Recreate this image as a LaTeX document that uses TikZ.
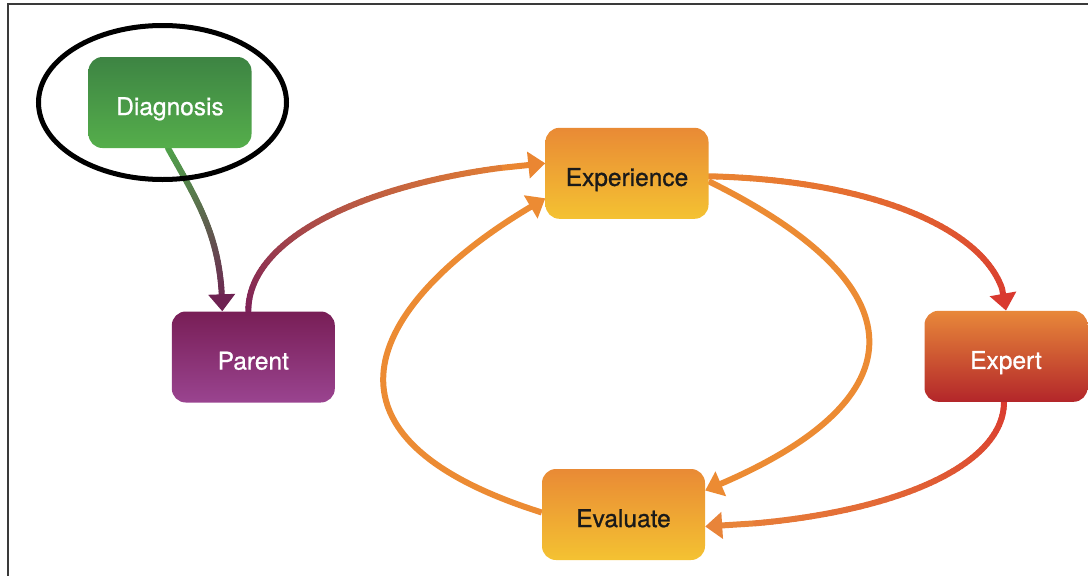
\documentclass[tikz,border=0pt]{standalone}
\usepackage{fontspec}
\setmainfont{TeX Gyre Heros}
\newfontfamily\boxfont{TeX Gyre Heros}[FakeBold=0.8]
\usetikzlibrary{arrows.meta,calc,backgrounds}
\definecolor{greenTop}{HTML}{3D8443}
\definecolor{greenBot}{HTML}{55AE4B}
\definecolor{orTop}{HTML}{E98A35}
\definecolor{orBot}{HTML}{F4C232}
\definecolor{purTop}{HTML}{781E56}
\definecolor{purBot}{HTML}{9A4490}
\definecolor{exTop}{HTML}{E8883A}
\definecolor{exMid}{HTML}{DC6228}
\definecolor{exBot}{HTML}{B3262A}
\definecolor{txtDark}{HTML}{1A1A1A}
\definecolor{cGreen}{HTML}{4FA34A}
\definecolor{cPurple}{HTML}{6E2252}
\definecolor{cPurple2}{HTML}{7B1F58}
\definecolor{cOrange}{HTML}{EA8632}
\definecolor{cLoop}{HTML}{EC8B33}
\definecolor{cRed}{HTML}{D9392F}
\definecolor{cOrange2}{HTML}{E8843A}
\definecolor{frameCol}{HTML}{3A3A3A}
\tikzset{
  box/.style={rounded corners=14pt, minimum width=163pt, minimum height=91pt,
    inner sep=0pt, font=\boxfont\fontsize{24.5}{28}\selectfont, text height=25.2pt, text depth=0pt},
  greenbox/.style={box, top color=greenTop, bottom color=greenBot, text=white},
  orangebox/.style={box, top color=orTop, bottom color=orBot, text=txtDark},
  purplebox/.style={box, top color=purTop, bottom color=purBot, text=white},
  redbox/.style={box, top color=exTop, middle color=exMid, bottom color=exBot, text=white},
  linkline/.style={line width=6pt},
  tip/.style={-{Triangle[width=26pt,length=17pt]}},
}
% gradient connector: start, control 1, control 2, end, start colour, end colour
\newcommand{\gradconn}[6]{%
  \path #1 .. controls #2 and #3 .. #4
    foreach \k [evaluate=\k as \t using \k/60] in {0,...,60} {coordinate[pos=\t] (g\k)};
  \draw[linkline, #6, tip] (g54) -- (g60);
  \foreach \k in {0,...,53} {
    \pgfmathtruncatemacro\kn{\k+1}
    \pgfmathtruncatemacro\pc{100-(\k+0.5)*100/60}
    \draw[linkline, line cap=round, #5!\pc!#6] (g\k) -- (g\kn);
  }
}
\begin{document}
\begin{tikzpicture}[x=1pt,y=-1pt]
\useasboundingbox (0,0) rectangle (1088,576);
\draw[frameCol, line width=1.5pt] (8,580) -- (8,4) -- (1092,4);

\node[greenbox]  (diag)   at (170,102.5) {Diagnosis};
\node[orangebox] (exp)    at (627,173.3) {Experience};
\node[purplebox] (parent) at (253.3,357) {Parent};
\node[redbox]    (expert) at (1006,356.3) {Expert};
\node[orangebox] (eval)   at (623.5,514.5) {Evaluate};

\draw[line width=5pt] ($(diag.center)+(-7.5,0)$) ellipse [x radius=124, y radius=77];

\begin{scope}[on background layer]
  \gradconn{($(diag.south)+(-2,0)$)}{(200,205)}{(222,240)}{($(parent.north)+(-31,0)$)}{cGreen}{cPurple}
  \gradconn{($(parent.north)+(-5,0)$)}{(248,230)}{(390,175)}{($(exp.west)+(0,-10)$)}{cPurple2}{cOrange}
  \gradconn{($(exp.east)+(0,3)$)}{(880,180)}{(1005,235)}{(expert.north)}{cOrange}{cRed}
  \gradconn{($(expert.south)+(-2,0)$)}{(1004,470)}{(880,520)}{($(eval.east)+(0,12)$)}{cRed}{cOrange2}
  \draw[linkline, cLoop, tip] ($(eval.west)+(0,-2)$) .. controls (280,430) and (390,290) .. ($(exp.west)+(0,25)$);
  \draw[linkline, cLoop, tip] ($(exp.east)+(0,8)$) .. controls (921,286) and (921,398) .. ($(eval.east)+(0,-24)$);
\end{scope}
\end{tikzpicture}
\end{document}
